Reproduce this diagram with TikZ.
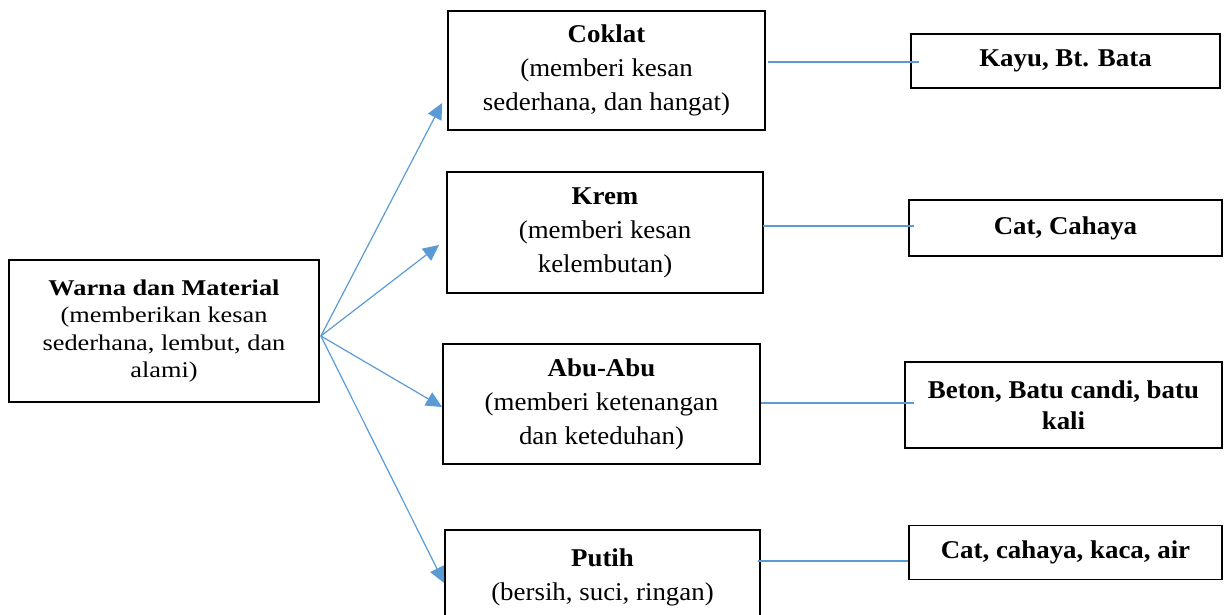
\documentclass[tikz,border=0pt]{standalone}
\usepackage{fontspec}
\setmainfont{Liberation Serif}
\newfontfamily\widefont{Liberation Serif}[FakeStretch=1.17]
\newfontfamily\midfont{Liberation Serif}[FakeStretch=1.05]
\usetikzlibrary{arrows.meta,calc}
\definecolor{linkblue}{RGB}{91,155,213}
\begin{document}
\begin{tikzpicture}[x=1pt,y=-1pt,
  box/.style={draw=black,line width=1.8pt,rectangle,inner sep=0pt,align=center},
  midtext/.style={font=\midfont\fontsize{25.6}{34}\selectfont},
  righttext/.style={font=\midfont\fontsize{25.6}{31}\selectfont\bfseries},
  link/.style={draw=linkblue,line width=1.2pt},
  arrowlink/.style={link,-{Triangle[length=16pt,width=15pt]}}]
\useasboundingbox (0,0) rectangle (1230,615);
\clip (0,0) rectangle (1230,615);

\node[box,minimum width=310pt,minimum height=142pt,font=\widefont\fontsize{22.5}{27.5}\selectfont] (main) at (164,331)
  {\textbf{Warna dan Material}\\(memberikan kesan\\sederhana, lembut, dan\\alami)};

\node[box,midtext,minimum width=317pt,minimum height=119pt] (coklat) at (606.5,70.5)
  {\textbf{Coklat}\\(memberi kesan\\sederhana, dan hangat)};
\node[box,midtext,minimum width=316pt,minimum height=121pt] (krem) at (605,232.5)
  {\textbf{Krem}\\(memberi kesan\\kelembutan)};
\node[box,midtext,minimum width=317pt,minimum height=120pt] (abu) at (601.5,404)
  {\textbf{Abu-Abu}\\(memberi ketenangan\\dan keteduhan)};
\node[box,midtext,minimum width=315pt,minimum height=94pt] (putih) at (602.5,577)
  {\textbf{Putih}\\(bersih, suci, ringan)};

\node[box,righttext,minimum width=309pt,minimum height=54pt] (kayu) at (1065.5,61) {Kayu, Bt. Bata};
\node[box,righttext,minimum width=313pt,minimum height=56pt] (cat) at (1065.5,228) {Cat, Cahaya};
\node[box,righttext,minimum width=317pt,minimum height=86pt] (beton) at (1063.5,405) {Beton, Batu candi, batu\\kali};
\node[box,righttext,minimum width=313pt,minimum height=54pt] (cat2) at (1065.5,552.5) {Cat, cahaya, kaca, air};

\coordinate (o) at ($(main.east)+(1,5)$);
\draw[arrowlink] (o) -- ($(coklat.west)+(-5,32.5)$);
\draw[arrowlink] (o) -- ($(krem.west)+(-7,12.5)$);
\draw[arrowlink] (o) -- ($(abu.west)+(0,3)$);
\draw[arrowlink] (o) -- ($(putih.west)+(0,6)$);

\draw[link] ($(coklat.east)+(2,-8.5)$) -- ($(kayu.west)+(9,1)$);
\draw[link] ($(krem.east)+(-1,-6.5)$) -- ($(cat.west)+(6,-2)$);
\draw[link] ($(abu.east)+(0,-1)$) -- ($(beton.west)+(10,-2)$);
\draw[link] ($(putih.east)+(-3,-16)$) -- ($(cat2.west)+(0,8.5)$);
\end{tikzpicture}
\end{document}
